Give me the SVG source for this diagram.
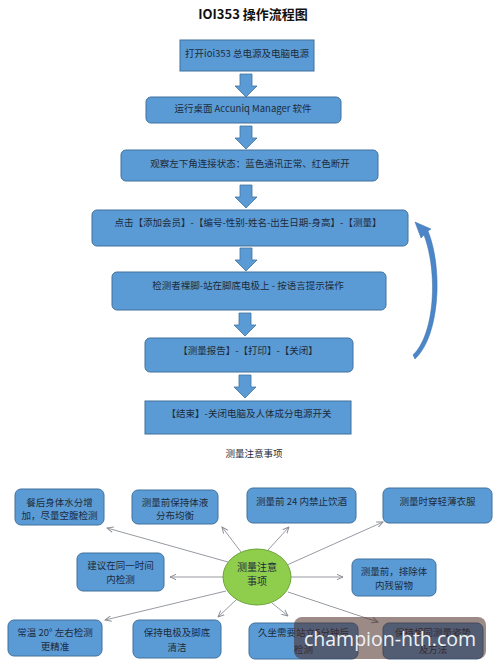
<svg xmlns="http://www.w3.org/2000/svg" width="500" height="672" viewBox="0 0 500 672">
<defs>
<style>
.box{fill:#5b9bd5;stroke:#41719c;stroke-width:1}
.t{font-family:"Noto Sans CJK SC","Noto Sans",sans-serif;font-size:9.5px;fill:#1c2b3c;text-anchor:middle}
.title{font-family:"Noto Sans CJK SC","Noto Sans",sans-serif;font-size:13px;font-weight:bold;fill:#111;text-anchor:middle}
.dn{fill:#5b9bd5;stroke:#41719c;stroke-width:0.8}
.ln{stroke:#8a8f96;stroke-width:0.9;fill:none;marker-end:url(#ah)}
</style>
<marker id="ah" viewBox="0 0 10 10" refX="9" refY="5" markerWidth="7" markerHeight="7" orient="auto" markerUnits="userSpaceOnUse">
<path d="M0,1 L9,5 L0,9" fill="none" stroke="#8a8f96" stroke-width="1.4"/>
</marker>
<path id="down" d="M-6,0 H6 V12 H11 L0,23 L-11,12 H-6 Z"/>
</defs>
<rect width="500" height="672" fill="#ffffff"/>
<text class="title" x="253" y="19">IOI353  操作流程图</text>

<g id="connectors">
<use href="#down" class="dn" x="246" y="74"/>
<use href="#down" class="dn" x="246" y="126"/>
<use href="#down" class="dn" x="246" y="185"/>
<use href="#down" class="dn" x="246" y="248"/>
<use href="#down" class="dn" x="245" y="313"/>
<use href="#down" class="dn" x="245" y="375"/>
<path d="M415,222 L431,229 L428,231 C443,268 440,336 415,359 L413,355 C435,334 438,272 424,235 L421,238 Z" fill="#4a86c8" stroke="#3b6fa8" stroke-width="0.5"/>
<line class="ln" x1="228" y1="562" x2="107" y2="528"/>
<line class="ln" x1="241" y1="552" x2="222" y2="527"/>
<line class="ln" x1="268" y1="550" x2="289" y2="527"/>
<line class="ln" x1="287" y1="565" x2="383" y2="522"/>
<line class="ln" x1="223" y1="577" x2="170" y2="577"/>
<line class="ln" x1="291" y1="577" x2="343" y2="577"/>
<line class="ln" x1="226" y1="591" x2="105" y2="620"/>
<line class="ln" x1="237" y1="599" x2="218" y2="617"/>
<line class="ln" x1="272" y1="603" x2="288" y2="616"/>
<line class="ln" x1="288" y1="592" x2="378" y2="622"/>
</g>

<g id="s1"><rect class="box" x="180" y="40" width="134" height="31"/><text class="t" x="247" y="56.5">打开ioi353 总电源及电脑电源</text></g>
<g id="s2"><rect class="box" x="146" y="97" width="195" height="26" rx="5"/><text class="t" x="243" y="111.5">运行桌面 Accuniq Manager 软件</text></g>
<g id="s3"><rect class="box" x="121" y="150" width="257" height="31" rx="5"/><text class="t" x="250" y="166.5">观察左下角连接状态：蓝色通讯正常、红色断开</text></g>
<g id="s4"><rect class="box" x="92" y="210" width="316" height="36" rx="5"/><text class="t" x="248" y="225.5">点击【添加会员】-【编号-性别-姓名-出生日期-身高】-【测量】</text></g>
<g id="s5"><rect class="box" x="112" y="272" width="274" height="38" rx="5"/><text class="t" x="248" y="288.5">检测者裸脚-站在脚底电极上 - 按语言提示操作</text></g>
<g id="s6"><rect class="box" x="145" y="338" width="208" height="34" rx="5"/><text class="t" x="248" y="353.5">【测量报告】-【打印】-【关闭】</text></g>
<g id="s7"><rect class="box" x="145" y="401" width="206" height="33"/><text class="t" x="249" y="416.5">【结束】-关闭电脑及人体成分电源开关</text></g>

<text class="t" x="254" y="457">测量注意事项</text>

<g id="center"><ellipse cx="257" cy="577" rx="34" ry="28" fill="#8fce4c" stroke="#6aa336" stroke-width="1"/><text class="t" x="257" y="570.5" style="font-size:10px">测量注意</text><text class="t" x="257" y="584.5" style="font-size:10px">事项</text></g>

<g id="nA"><rect class="box" x="15" y="489" width="89" height="36" rx="6"/><text class="t" x="59.5" y="506">餐后身体水分增</text><text class="t" x="59.5" y="519">加，尽量空腹检测</text></g>
<g id="nB"><rect class="box" x="132" y="490" width="86" height="34" rx="6"/><text class="t" x="175" y="506">测量前保持体液</text><text class="t" x="175" y="519">分布均衡</text></g>
<g id="nC"><rect class="box" x="247" y="488" width="109" height="35" rx="6"/><text class="t" x="301.5" y="504.5">测量前 24 内禁止饮酒</text></g>
<g id="nD"><rect class="box" x="383" y="488" width="109" height="35" rx="6"/><text class="t" x="437.5" y="504.5">测量时穿轻薄衣服</text></g>
<g id="nE"><rect class="box" x="77" y="553" width="87" height="38" rx="6"/><text class="t" x="120.5" y="569">建议在同一时间</text><text class="t" x="120.5" y="583">内检测</text></g>
<g id="nF"><rect class="box" x="352" y="559" width="84" height="37" rx="6"/><text class="t" x="394" y="575">测量前，排除体</text><text class="t" x="394" y="589">内残留物</text></g>
<g id="nG"><rect class="box" x="8" y="620" width="94" height="36" rx="6"/><text class="t" x="55" y="636">常温 20°  左右检测</text><text class="t" x="55" y="650">更精准</text></g>
<g id="nH"><rect class="box" x="133" y="620" width="88" height="38" rx="6"/><text class="t" x="177" y="636">保持电极及脚底</text><text class="t" x="177" y="651">清洁</text></g>
<g id="nI"><rect class="box" x="249" y="623" width="109" height="36" rx="6"/><text class="t" x="303.5" y="636">久坐需要站立5分钟后</text><text class="t" x="303.5" y="653">检测</text></g>
<g id="nJ"><rect class="box" x="383" y="623" width="100" height="36" rx="6"/><text class="t" x="433" y="636">保持相同测量姿势</text><text class="t" x="433" y="653">及方法</text></g>

<g id="watermark">
<rect x="294" y="617" width="192" height="42" rx="8" fill="#4a2a24" fill-opacity="0.55"/>
<text x="390" y="645.5" style="font-family:'Open Sans','DejaVu Sans',sans-serif;font-size:19.5px;fill:#eef2f6;text-anchor:middle">champion-hth.com</text>
</g>
</svg>
